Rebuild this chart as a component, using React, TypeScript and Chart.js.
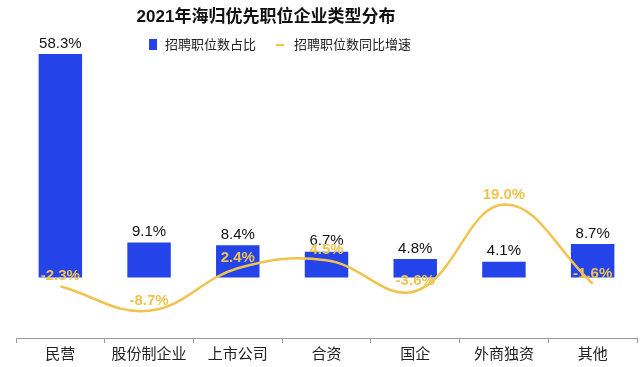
import React, { useEffect, useRef } from 'react';
import { Chart, registerables } from 'chart.js';

Chart.register(...registerables);

const categories = ['民营', '股份制企业', '上市公司', '合资', '国企', '外商独资', '其他'];
const shareValues = [58.3, 9.1, 8.4, 6.7, 4.8, 4.1, 8.7];
const growthValues = [-2.3, -8.7, 2.4, 4.5, -3.6, 19.0, -1.6];
const seriesNames = ['招聘职位数占比', '招聘职位数同比增速'];
const titleText = '2021年海归优先职位企业类型分布';
const yMin = -15.8;
const yMax = 58.3;

const BLUE = '#2443E8';
const GOLD = '#F0C34F';
const FONT = '"Liberation Sans", "Noto Sans CJK SC", sans-serif';

const customPlugin = {
  id: 'customText',
  afterDatasetsDraw(chart: any) {
    const ctx = chart.ctx;
    ctx.save();
    const barMeta = chart.getDatasetMeta(1);
    ctx.font = `15px ${FONT}`;
    ctx.fillStyle = '#111';
    ctx.textAlign = 'center';
    ctx.textBaseline = 'bottom';
    barMeta.data.forEach((el: any, i: number) => {
      ctx.fillText(shareValues[i].toFixed(1) + '%', el.x, el.y - 3);
    });
    const lineMeta = chart.getDatasetMeta(0);
    ctx.font = `bold 15px ${FONT}`;
    ctx.fillStyle = GOLD;
    ctx.textBaseline = 'middle';
    lineMeta.data.forEach((el: any, i: number) => {
      ctx.fillText(growthValues[i].toFixed(1) + '%', el.x, el.y - 10);
    });
    ctx.restore();
  },
  afterDraw(chart: any) {
    const ctx = chart.ctx;
    ctx.save();
    // title
    ctx.font = `bold 17px ${FONT}`;
    ctx.fillStyle = '#111';
    ctx.textAlign = 'center';
    ctx.textBaseline = 'middle';
    ctx.fillText(titleText, 266, 17);
    // legend
    ctx.fillStyle = BLUE;
    ctx.fillRect(149, 39, 8, 11);
    ctx.font = `13px ${FONT}`;
    ctx.fillStyle = '#222';
    ctx.textAlign = 'left';
    ctx.fillText(seriesNames[0], 165, 45);
    ctx.strokeStyle = GOLD;
    ctx.lineWidth = 2;
    ctx.beginPath();
    ctx.moveTo(276, 45);
    ctx.lineTo(284, 45);
    ctx.stroke();
    ctx.fillText(seriesNames[1], 294, 45);
    ctx.restore();
  },
};

export default function App() {
  const ref = useRef<HTMLCanvasElement>(null);
  useEffect(() => {
    if (!ref.current) return;
    const chart = new Chart(ref.current, {
      type: 'bar',
      data: {
        labels: categories,
        datasets: [
          {
            type: 'line',
            label: seriesNames[1],
            data: growthValues,
            borderColor: GOLD,
            backgroundColor: GOLD,
            borderWidth: 2.5,
            tension: 0.4,
            pointRadius: 0,
            fill: false,
            order: 0,
          } as any,
          {
            type: 'bar',
            label: seriesNames[0],
            data: shareValues,
            backgroundColor: BLUE,
            categoryPercentage: 1,
            barPercentage: 0.49,
            order: 1,
          },
        ],
      },
      options: {
        responsive: false,
        animation: false,
        layout: { padding: { top: 54, left: 16, right: 3, bottom: 0 } },
        plugins: {
          legend: { display: false },
          title: { display: false },
          tooltip: { enabled: false },
        },
        scales: {
          x: {
            offset: true,
            grid: { display: true, drawOnChartArea: false, drawTicks: true, tickLength: 5, color: '#999' },
            border: { display: true, color: '#999', width: 1 },
            ticks: { color: '#222', font: { size: 15, family: FONT }, padding: 3, maxRotation: 0, autoSkip: false },
          },
          y: {
            display: false,
            min: yMin,
            max: yMax,
          },
        },
      },
      plugins: [customPlugin],
    });
    return () => chart.destroy();
  }, []);
  return (
    <div style={{ position: 'fixed', left: 0, top: 0, width: 640, height: 367, background: '#fff' }}>
      <canvas ref={ref} width={640} height={367} style={{ display: 'block' }} />
    </div>
  );
}
